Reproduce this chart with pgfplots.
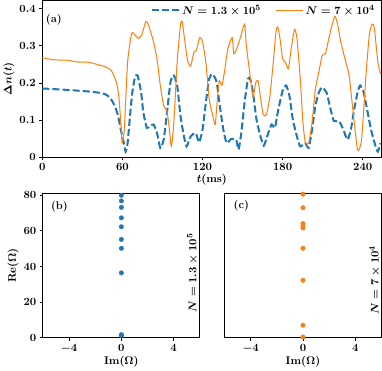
\documentclass[border=0pt]{standalone}
\usepackage{pgfplots}
\pgfplotsset{compat=1.18}
\definecolor{cblue}{HTML}{1F77B4}
\definecolor{corange}{HTML}{FF7F0E}
\newcommand{\bigbf}{\fontsize{11}{13}\selectfont\boldmath\bfseries}

\pgfplotsset{every axis/.append style={
  scale only axis, font=\bigbf,
  tick label style={font=\bigbf}, label style={font=\bigbf}, legend style={font=\bigbf},
  axis line style={line width=1.1pt}, tick style={black,line width=0.7pt},
  xtick pos=bottom, ytick pos=left,
  tick align=outside, major tick length=3pt}}

\begin{document}
\begin{tikzpicture}
% (a) time traces
\begin{axis}[at={(41.7pt,-160.7pt)},anchor=south west,width=335pt,height=154.7pt,
  xmin=0,xmax=254,ymin=0,ymax=0.4216,xtick={0,60,120,180,240},ytick={0,0.1,0.2,0.3,0.4},
  yticklabel style={/pgf/number format/fixed,/pgf/number format/precision=1},
  xlabel={$t(\mathrm{ms})$},ylabel={$\Delta n(t)$},
  xlabel style={yshift=4pt},ylabel style={yshift=-2pt},
  legend style={draw=none,fill=none,at={(0.995,1.0)},anchor=north east,legend columns=2,
    /tikz/every even column/.append style={column sep=12pt}},
  legend image code/.code={\draw[#1] (0pt,0pt) -- (27pt,0pt);}]
\addplot[cblue,line width=2pt,dash pattern=on 7pt off 3pt,smooth,tension=0.35] coordinates {
(0,0.185)(19,0.181)(34,0.177)(41.7,0.174)(46.7,0.170)(50.5,0.161)(54.3,0.138)(56.8,0.111)
(58.8,0.074)(60.6,0.047)(62.4,0.015)(63.9,0.038)(65.7,0.111)(67.4,0.174)(69.4,0.215)(71.4,0.220)
(74,0.174)(75.7,0.120)(78.3,0.079)(80.8,0.084)(83.3,0.088)(85.9,0.065)(88.4,0.025)(90.9,0.047)
(93.4,0.120)(96,0.202)(98.5,0.220)(101,0.193)(103.5,0.111)(106.1,0.056)(108.1,0.029)(111.1,0.056)
(114.9,0.065)(117.4,0.040)(120,0.074)(122.5,0.147)(125,0.211)(127.5,0.224)(130.6,0.202)(132.6,0.147)
(135.6,0.074)(138.1,0.038)(141.4,0.049)(145.2,0.047)(147,0.020)(149,0.065)(151.5,0.147)(154,0.211)
(155.8,0.209)(157.8,0.174)(160.4,0.102)(163.4,0.056)(165.9,0.031)(168.4,0.056)(171.7,0.088)(174.2,0.079)
(176.8,0.129)(180,0.179)(182.6,0.193)(185.1,0.165)(187.6,0.102)(190.7,0.056)(193.2,0.029)(196.9,0.038)
(199.5,0.025)(202,0.074)(204.5,0.138)(207.1,0.174)(209.6,0.188)(212.9,0.174)(215.9,0.129)(218.4,0.097)
(222.2,0.097)(225.5,0.074)(228.5,0.047)(231.1,0.074)(233.6,0.129)(236.1,0.174)(238.1,0.193)(240.7,0.174)
(243.7,0.120)(246.2,0.074)(249.2,0.034)(251.3,0.015)(253.3,0.038)};
\addlegendentry{$N = 1.3\times 10^5$}
\addplot[corange,line width=1pt,smooth,tension=0.35] coordinates {
(0,0.268)(8.8,0.262)(19,0.261)(26.5,0.256)(34,0.256)(41.7,0.249)(46.7,0.244)(51.8,0.233)
(55.6,0.200)(57.3,0.165)(58.8,0.093)(59.8,0.038)(61.4,0.074)(63.9,0.256)(66.9,0.333)(69.4,0.329)
(72,0.320)(74.5,0.329)(77.5,0.365)(79.5,0.356)(83.3,0.311)(85.9,0.265)(88.4,0.193)(90.9,0.138)
(93.4,0.124)(95.2,0.074)(96.7,0.029)(98.5,0.093)(101,0.256)(103.5,0.356)(104.8,0.365)(106.8,0.311)
(108.8,0.261)(111.1,0.245)(113.6,0.283)(115.4,0.288)(117.9,0.322)(120,0.311)(122.5,0.256)(125,0.156)
(127.5,0.115)(129.5,0.088)(131.3,0.165)(132.6,0.206)(134.6,0.194)(136.4,0.229)(139,0.292)(142.2,0.322)
(143.4,0.279)(145.2,0.288)(148.2,0.320)(151.5,0.358)(152.8,0.302)(155.3,0.229)(157.8,0.161)(159.8,0.200)
(161.6,0.206)(162.9,0.174)(165.4,0.115)(167.9,0.115)(170.5,0.165)(173,0.256)(175,0.338)(176.3,0.351)
(178,0.320)(180,0.265)(182.6,0.252)(184.3,0.238)(186.4,0.292)(188.9,0.344)(190.7,0.320)(193.2,0.211)
(195.2,0.093)(197,0.040)(199.5,0.038)(202,0.093)(204.5,0.183)(207.1,0.229)(209.6,0.274)(212.1,0.279)
(214.6,0.320)(216.4,0.347)(219,0.379)(221,0.361)(223.5,0.311)(227.3,0.256)(229.8,0.220)(232.3,0.138)
(236.1,0.020)(239.1,0.047)(242.4,0.220)(244.9,0.329)(247,0.358)(248.7,0.347)(251.3,0.256)(253.3,0.224)};
\addlegendentry{$N = 7\times 10^4$}
\node[font=\bigbf] at (rel axis cs:0.034,0.877) {(a)};
\end{axis}
% (b) spectrum, N = 1.3e5
\begin{axis}[at={(42.3pt,-339pt)},anchor=south west,width=155pt,height=142.3pt,
  xmin=-6,xmax=6,ymin=0,ymax=80.9,xtick={-4,0,4},ytick={0,20,40,60,80},
  xlabel={$\mathrm{Im}(\Omega)$},ylabel={$\mathrm{Re}(\Omega)$},
  xlabel style={yshift=4pt},ylabel style={yshift=-2pt}]
\addplot[only marks,mark=*,mark size=2.2pt,cblue] coordinates {
(0,80.0)(0,76.8)(0,73.2)(0,67.3)(0,62.3)(0,55.2)(0,50.2)(0,36.4)(0,1.7)(0,1.2)};
\node[font=\bigbf] at (rel axis cs:0.105,0.907) {(b)};
\node[font=\bigbf,rotate=90] at (rel axis cs:0.953,0.45) {$N = 1.3\times 10^5$};
\end{axis}
% (c) spectrum, N = 7e4
\begin{axis}[at={(221.7pt,-339pt)},anchor=south west,width=155pt,height=142.3pt,
  xmin=-6,xmax=6,ymin=0,ymax=80.9,xtick={-4,0,4},ymajorticks=false,
  xlabel={$\mathrm{Im}(\Omega)$},xlabel style={yshift=4pt}]
\addplot[only marks,mark=*,mark size=2.2pt,corange] coordinates {
(0,80.6)(0,73.0)(0,64.1)(0,62.8)(0,61.6)(0,50.2)(0,32.2)(0,7.0)(0,0.4)};
\node[font=\bigbf] at (rel axis cs:0.107,0.918) {(c)};
\node[font=\bigbf,rotate=90] at (rel axis cs:0.957,0.40) {$N = 7\times 10^4$};
\end{axis}
\end{tikzpicture}
\end{document}
